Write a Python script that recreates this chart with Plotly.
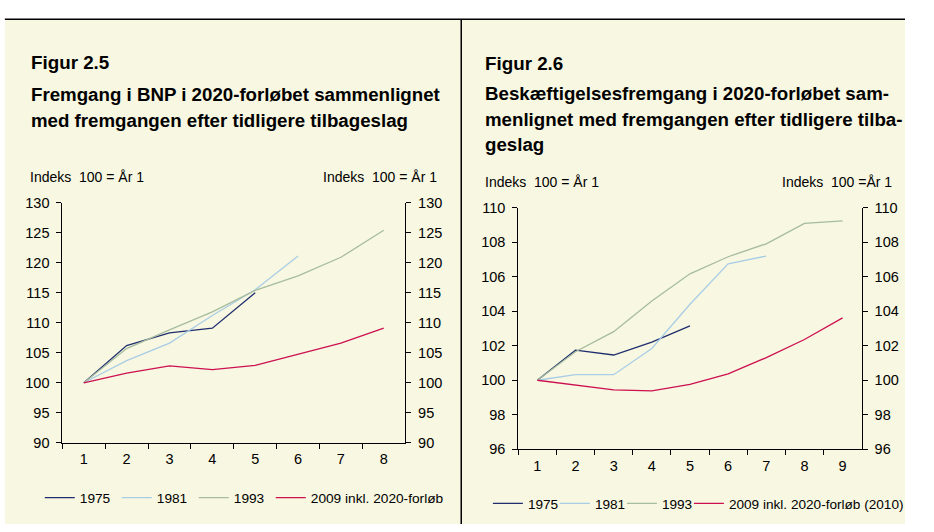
import plotly.graph_objects as go

# ---------------- data ----------------
periods_gdp = ["1", "2", "3", "4", "5", "6", "7", "8"]
gdp_1975 = [100, 106.2, 108.3, 109.1, 115.0]
gdp_1981 = [100, 103.7, 106.6, 111.2, 115.5, 121.1]
gdp_1993 = [100, 105.7, 108.8, 111.8, 115.4, 117.8, 120.9, 125.4]
gdp_2009 = [100, 101.6, 102.8, 102.2, 102.9, 104.7, 106.6, 109.1]

periods_emp = ["1", "2", "3", "4", "5", "6", "7", "8", "9"]
emp_1975 = [100, 101.74, 101.46, 102.21, 103.15]
emp_1981 = [100, 100.32, 100.32, 101.84, 104.4, 106.74, 107.19]
emp_1993 = [100, 101.65, 102.81, 104.59, 106.16, 107.15, 107.9, 109.08, 109.23]
emp_2009 = [100, 99.70, 99.44, 99.38, 99.76, 100.37, 101.31, 102.36, 103.61]

names_gdp = ["1975", "1981", "1993", "2009 inkl. 2020-forløb"]
names_emp = ["1975", "1981", "1993", "2009 inkl. 2020-forløb (2010)"]
colors = ["#1F2F6E", "#A9CDE6", "#A6BC9E", "#CC1050"]

W, H = 934, 532
BG = "#F8F7E1"
FONT = "Arial, Liberation Sans, sans-serif"


def px(x):
    return x / W


def py(y):
    return 1 - y / H


fig = go.Figure()

for i, (name, vals, col) in enumerate(zip(names_gdp, [gdp_1975, gdp_1981, gdp_1993, gdp_2009], colors)):
    fig.add_trace(go.Scatter(x=periods_gdp[:len(vals)], y=vals, name=name, mode="lines",
                             line=dict(color=col, width=1.3), xaxis="x", yaxis="y",
                             legend="legend", legendwidth=150 if i == 3 else None))

for i, (name, vals, col) in enumerate(zip(names_emp, [emp_1975, emp_1981, emp_1993, emp_2009], colors)):
    fig.add_trace(go.Scatter(x=periods_emp[:len(vals)], y=vals, name=name, mode="lines",
                             line=dict(color=col, width=1.3), xaxis="x2", yaxis="y3",
                             legend="legend2", legendwidth=200 if i == 3 else None))

# empty traces so the mirrored right-hand value axes are drawn
fig.add_trace(go.Scatter(x=[], y=[], xaxis="x", yaxis="y2", showlegend=False, hoverinfo="skip"))
fig.add_trace(go.Scatter(x=[], y=[], xaxis="x2", yaxis="y4", showlegend=False, hoverinfo="skip"))

tickfont = dict(family=FONT, size=14.5, color="#000000")
common_y = dict(showgrid=False, zeroline=False, showline=True, linecolor="#000000", linewidth=1,
                ticks="outside", ticklen=5, tickcolor="#000000", tickfont=tickfont,
                ticklabelstandoff=4)
common_x = dict(type="category", showgrid=False, zeroline=False, showline=True, linecolor="#000000",
                linewidth=1, ticks="outside", ticklen=5, tickcolor="#000000", tickfont=tickfont,
                tickson="boundaries", ticklabelstandoff=3)

L_dom_x = [px(64.3), px(417.7)]
L_dom_y = [py(448.3), py(200.7)]
R_dom_x = [px(534.3), px(888.3)]
R_dom_y = [py(455), py(205.7)]

fig.update_layout(
    width=W, height=H,
    margin=dict(l=0, r=0, t=0, b=0),
    paper_bgcolor="#FFFFFF",
    plot_bgcolor="rgba(0,0,0,0)",
    font=dict(family=FONT, color="#000000"),
    xaxis=dict(domain=L_dom_x, anchor="y", categoryorder="array", categoryarray=periods_gdp,
               range=[-0.5, len(periods_gdp) - 0.5], **common_x),
    yaxis=dict(domain=L_dom_y, anchor="x", range=[90, 130], dtick=5, **common_y),
    yaxis2=dict(overlaying="y", side="right", anchor="x", range=[90, 130], dtick=5, **common_y),
    xaxis2=dict(domain=R_dom_x, anchor="y3", categoryorder="array", categoryarray=periods_emp,
                range=[-0.5, len(periods_emp) - 0.5], **common_x),
    yaxis3=dict(domain=R_dom_y, anchor="x2", range=[96, 110], dtick=2, **common_y),
    yaxis4=dict(overlaying="y3", side="right", anchor="x2", range=[96, 110], dtick=2, **common_y),
    legend=dict(orientation="h", x=px(41), y=py(505), xanchor="left", yanchor="middle",
                bgcolor="rgba(0,0,0,0)", entrywidth=32, font=dict(family=FONT, size=13.7)),
    legend2=dict(orientation="h", x=px(503), y=py(511), xanchor="left", yanchor="middle",
                 bgcolor="rgba(0,0,0,0)", entrywidth=22, font=dict(family=FONT, size=13.6)),
    showlegend=True,
)

# panel backgrounds and rules
fig.add_shape(type="rect", xref="paper", yref="paper", x0=px(5), x1=px(475), y0=0, y1=py(11),
              fillcolor=BG, line=dict(width=0), layer="below")
fig.add_shape(type="rect", xref="paper", yref="paper", x0=px(475), x1=px(933), y0=0, y1=py(11),
              fillcolor=BG, line=dict(width=0), layer="below")
fig.add_shape(type="line", xref="paper", yref="paper", x0=px(5), x1=px(933), y0=py(11.5), y1=py(11.5),
              line=dict(color="#000000", width=1.5))
fig.add_shape(type="line", xref="paper", yref="paper", x0=px(475.5), x1=px(475.5), y0=0, y1=py(11.5),
              line=dict(color="#000000", width=1.5))


def ann(text, x, y, size, bold=False, xanchor="left"):
    fig.add_annotation(text=f"<b>{text}</b>" if bold else text, x=px(x), y=py(y),
                       xref="paper", yref="paper", xanchor=xanchor, yanchor="middle",
                       showarrow=False, font=dict(family=FONT, size=size, color="#000000"))


# left panel texts
ann("Figur 2.5", 30, 56, 18.8, True)
ann("Fremgang i BNP i 2020-forløbet sammenlignet", 30, 89, 18.7, True)
ann("med fremgangen efter tidligere tilbageslag", 30, 116, 18.7, True)
ann("Indeks  100 = År 1", 29, 174, 14)
ann("Indeks  100 = År 1", 453, 174, 14, xanchor="right")

# right panel texts
ann("Figur 2.6", 498, 57, 18.8, True)
ann("Beskæftigelsesfremgang i 2020-forløbet sam-", 498, 88, 18.7, True)
ann("menlignet med fremgangen efter tidligere tilba-", 498, 115, 18.7, True)
ann("geslag", 498, 141, 18.7, True)
ann("Indeks  100 = År 1", 498, 179, 14)
ann("Indeks  100 =År 1", 922, 179, 14, xanchor="right")

fig.write_html("out.html",
               post_script="document.body.style.margin='0px';document.body.style.overflow='hidden';",
               config={"displayModeBar": False})
